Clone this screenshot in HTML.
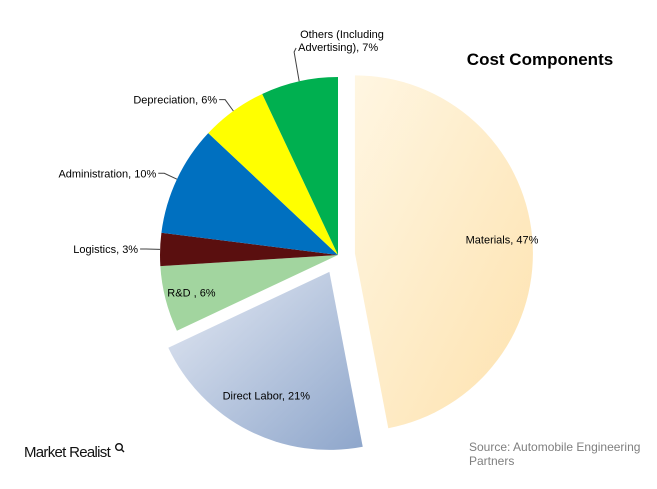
<!DOCTYPE html>
<html><head><meta charset="utf-8"><style>
body{margin:0;background:#fff;}
svg{display:block;font-family:"Liberation Sans",Arial,sans-serif;}
</style></head><body>
<svg width="657" height="489" viewBox="0 0 657 489">
<defs>
<linearGradient id="gMat" x1="0" y1="0" x2="1" y2="1">
<stop offset="0" stop-color="#fff6e2"/><stop offset="1" stop-color="#fde2ae"/></linearGradient>
<linearGradient id="gDL" x1="0" y1="0" x2="1" y2="1">
<stop offset="0" stop-color="#e4e9f3"/><stop offset="1" stop-color="#8ea6cb"/></linearGradient>
</defs>
<g id="slices"></g>
<g id="labels"></g>
<text x="540" y="65" font-size="17" font-weight="bold" text-anchor="middle" fill="#000">Cost Components</text>
<text x="469" y="451" font-size="12" fill="#7f7f7f"><tspan x="469">Source: Automobile Engineering</tspan><tspan x="469" dy="14">Partners</tspan></text>
<text x="24" y="457" font-size="15" fill="#111" letter-spacing="-0.7">Market Realist</text>
<g><circle cx="119" cy="447" r="3.3" fill="none" stroke="#111" stroke-width="1.4"/><line x1="121" y1="449" x2="124" y2="452" stroke="#111" stroke-width="1.4"/></g>
</svg>
<script>
const categories=["Materials","Direct Labor","R&D","Logistics","Administration","Depreciation","Others"];
const values=[47,21,6,3,10,6,7];
const labelTexts=["Materials, 47%","Direct Labor, 21%","R&D , 6%","Logistics, 3%","Administration, 10%","Depreciation, 6%","Others (Including|Advertising), 7%"];
const colors=["url(#gMat)","url(#gDL)","#a2d59f","#5a0f0f","#0070c0","#ffff00","#00b050"];
const explode=[17,19,0,0,0,0,0];
const labelRadius=[0.83,0.78,0.85];
const cx=338,cy=255,R=178;
const NS="http://www.w3.org/2000/svg";
const total=values.reduce((a,b)=>a+b,0);
function pt(a,r,ox,oy){return [ox+r*Math.sin(a),oy-r*Math.cos(a)];}
const gS=document.getElementById('slices'),gL=document.getElementById('labels');
let acc=0;
values.forEach((v,i)=>{
  const a0=acc/total*2*Math.PI; acc+=v; const a1=acc/total*2*Math.PI;
  const am=(a0+a1)/2;
  const ox=cx+explode[i]*Math.sin(am), oy=cy-explode[i]*Math.cos(am);
  const p0=pt(a0,R,ox,oy),p1=pt(a1,R,ox,oy);
  const p=document.createElementNS(NS,'path');
  p.setAttribute('d',`M${ox},${oy}L${p0[0]},${p0[1]}A${R},${R} 0 ${a1-a0>Math.PI?1:0} 1 ${p1[0]},${p1[1]}Z`);
  p.setAttribute('fill',colors[i]);
  
  
  gS.appendChild(p);
  const lines=labelTexts[i].split('|');
  let tx,ty,anchor,inside=(i<3);
  if(inside){
    const q=pt(am,labelRadius[i]*R,ox,oy); tx=q[0]; ty=q[1]+4; anchor='middle';
  } else {
    const e=pt(am,R,ox,oy), m=pt(am,R+14,ox,oy);
    let hx=m[0]-6;
    const line=document.createElementNS(NS,'polyline');
    let pts;
    if(i==6){ const t=[m[0]-2,cy-R-25]; pts=`${e[0]},${e[1]} ${t[0]},${t[1]} ${t[0]+2},${t[1]-4}`; tx=t[0]+4; ty=t[1]-14; anchor='start'; }
    else { pts=`${e[0]},${e[1]} ${m[0]},${m[1]} ${hx},${m[1]}`; tx=hx-2; ty=m[1]+4; anchor='end'; }
    line.setAttribute('points',pts);
    line.setAttribute('fill','none');line.setAttribute('stroke','#404040');line.setAttribute('stroke-width','1');
    
    
    gL.appendChild(line);
  }
  const t=document.createElementNS(NS,'text');
  t.setAttribute('x',tx);t.setAttribute('y',ty);t.setAttribute('font-size','11');t.setAttribute('fill','#000');
  t.setAttribute('text-anchor',anchor);
  
  
  lines.forEach((l,j)=>{const s=document.createElementNS(NS,'tspan');s.setAttribute('x',i==6?tx+(j==0?2:0):tx);if(j>0)s.setAttribute('dy','13');s.textContent=l;t.appendChild(s);});
  gL.appendChild(t);
});
</script>
</body></html>
